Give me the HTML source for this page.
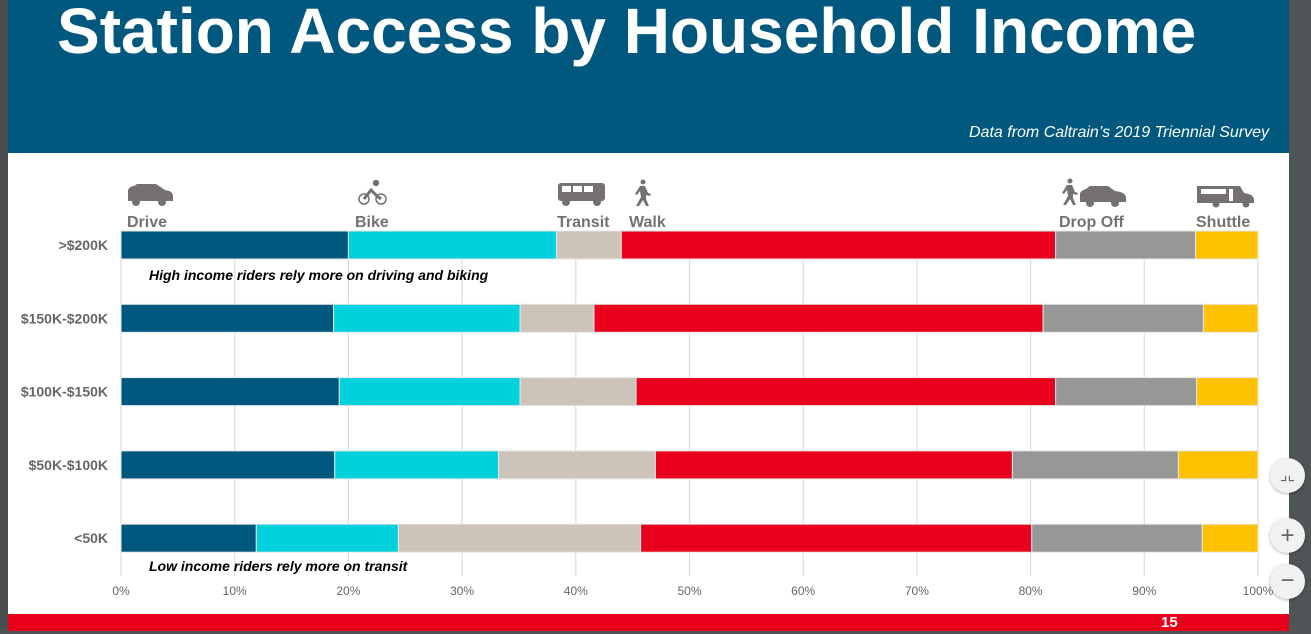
<!DOCTYPE html>
<html><head><meta charset="utf-8"><style>
body{margin:0;width:1311px;height:634px;overflow:hidden;background:#fff;font-family:"Liberation Sans",Arial,sans-serif;position:relative}
.abs{position:absolute}
</style></head><body>
<div class="abs" style="left:0;top:0;width:8px;height:634px;background:#4a4e51"></div>
<div class="abs" style="left:1289px;top:0;width:22px;height:634px;background:#4f5457"></div>
<div class="abs" style="left:8px;top:0;width:1281px;height:153px;background:#00587f"></div>
<div class="abs" style="left:57px;top:-6px;font-size:64px;font-weight:bold;color:#fff;white-space:nowrap">Station Access by Household Income</div>
<div class="abs" style="left:969px;top:124px;font-size:16px;font-style:italic;color:#fff;white-space:nowrap">Data from Caltrain’s 2019 Triennial Survey</div>
<div class="abs" style="left:8px;top:614px;width:1281px;height:17px;background:#e8001c"></div>
<div class="abs" style="left:1161px;top:614px;font-size:15px;font-weight:bold;color:#fff">15</div>
<div class="abs" style="left:0;top:631px;width:1311px;height:3px;background:#4f5457"></div>
<div class="abs" style="left:1270px;top:458px;width:35px;height:35px;border-radius:50%;background:#f1f1f1;box-shadow:0 1px 3px rgba(0,0,0,.3);color:#666;font-size:16px;text-align:center;line-height:35px">⌟⌞</div>
<div class="abs" style="left:1270px;top:518px;width:35px;height:35px;border-radius:50%;background:#f1f1f1;box-shadow:0 1px 3px rgba(0,0,0,.3);color:#666;font-size:24px;text-align:center;line-height:35px">+</div>
<div class="abs" style="left:1270px;top:564px;width:35px;height:35px;border-radius:50%;background:#f1f1f1;box-shadow:0 1px 3px rgba(0,0,0,.3);color:#666;font-size:24px;text-align:center;line-height:33px">−</div>
<svg class="abs" style="left:0;top:0" width="1289" height="614" id="chart">
<g fill="#767171">
<g><path d="M128 196 L128 190 Q130 186 134 186 L137 184 L156 184 L165 190 Q173 191 173 196 L173 201 L128 201Z"/><circle cx="136" cy="202" r="4"/><circle cx="162" cy="202" r="4"/></g>
<g fill="none" stroke="#767171" stroke-width="1.5"><circle cx="364" cy="199" r="5"/><circle cx="381" cy="199" r="5"/><path d="M364 199 L371 190 L377 196 L381 199" stroke-width="3"/><circle cx="376" cy="183" r="2.5" fill="#767171"/></g>
<g><rect x="558" y="183" width="47" height="18" rx="3"/><rect x="562" y="186" width="9" height="6" fill="#fff"/><rect x="573" y="186" width="9" height="6" fill="#fff"/><rect x="584" y="186" width="9" height="6" fill="#fff"/><circle cx="566" cy="202" r="4"/><circle cx="597" cy="202" r="4"/></g>
<g><circle cx="643" cy="182" r="2.5"/><path d="M640 186 L645 186 L648 193 L651 194 L650 196 L646 195 L646 199 L649 206 L646 206 L643 200 L639 206 L636 206 L641 197 L640 191 L637 195 L635 194Z"/></g>
<g><circle cx="1070" cy="181" r="2.5"/><path d="M1067 185 L1072 185 L1075 192 L1078 193 L1077 195 L1073 194 L1073 198 L1076 205 L1073 205 L1070 199 L1066 205 L1063 205 L1068 196 L1067 190 L1064 194 L1062 193Z"/><path d="M1080 198 L1080 193 Q1082 190 1086 189 L1090 186 L1108 186 L1115 191 Q1126 192 1126 198 L1126 202 L1080 202Z"/><circle cx="1090" cy="203" r="4"/><circle cx="1115" cy="203" r="4"/></g>
<g><path d="M1197 186 L1240 186 L1244 193 Q1254 194 1254 200 L1254 203 L1197 203Z"/><rect x="1201" y="189" width="25" height="5" fill="#fff"/><rect x="1229" y="189" width="4" height="12" fill="#fff"/><circle cx="1216" cy="204" r="3.5"/><circle cx="1246" cy="204" r="3.5"/></g>
</g>
<g font-size="16" font-weight="bold" fill="#767171">
<text x="127" y="227">Drive</text>
<text x="355" y="227">Bike</text>
<text x="557" y="227">Transit</text>
<text x="629" y="227">Walk</text>
<text x="1059" y="227">Drop Off</text>
<text x="1196" y="227">Shuttle</text>
</g>
</svg>
<script>
const categories=[">$200K","$150K-$200K","$100K-$150K","$50K-$100K","<50K"];
const drive=[20.0,18.7,19.2,18.8,11.9];
const bike=[18.3,16.4,15.9,14.4,12.5];
const transit=[5.7,6.5,10.2,13.8,21.3];
const walk=[38.2,39.5,36.9,31.4,34.4];
const dropOff=[12.3,14.1,12.4,14.6,15.0];
const shuttle=[5.5,4.8,5.4,7.0,4.9];
const tickLabels=["0%","10%","20%","30%","40%","50%","60%","70%","80%","90%","100%"];
const series=[drive,bike,transit,walk,dropOff,shuttle];
const seriesNames=["drive","bike","transit","walk","drop-off","shuttle"];
const colors=["#00587f","#00d1dc","#ccc3b9","#e8001c","#979797","#ffc200"];
const svg=document.getElementById('chart');const NS="http://www.w3.org/2000/svg";
const x=v=>121+v*11.37;const yRow=i=>231+i*73.3;
function mk(t,a){const e=document.createElementNS(NS,t);for(const k in a)e.setAttribute(k,a[k]);svg.appendChild(e);return e;}
tickLabels.forEach((t,i)=>{const v=i*10;
const g=mk('line',{x1:x(v),x2:x(v),y1:231,y2:576,stroke:'#dcdcdc','stroke-width':1.2});


const tx=mk('text',{x:x(v),y:595,'text-anchor':'middle','font-size':12,fill:'#666'});tx.textContent=t;

});
categories.forEach((c,i)=>{let acc=0;
series.forEach((s,j)=>{const r=mk('rect',{x:x(acc),y:yRow(i),width:x(acc+s[i])-x(acc),height:28,fill:colors[j],stroke:'#e6e6e6','stroke-width':1});

acc+=s[i];});
const l=mk('text',{x:108,y:yRow(i)+19,'text-anchor':'end','font-size':14,'font-weight':'bold',fill:'#666'});l.textContent=c;

});
const a1=mk('text',{x:149,y:280,'font-size':14,'font-weight':'bold','font-style':'italic',fill:'#000'});a1.textContent="High income riders rely more on driving and biking";


const a2=mk('text',{x:149,y:571,'font-size':14,'font-weight':'bold','font-style':'italic',fill:'#000'});a2.textContent="Low income riders rely more on transit";


</script>
</body></html>
